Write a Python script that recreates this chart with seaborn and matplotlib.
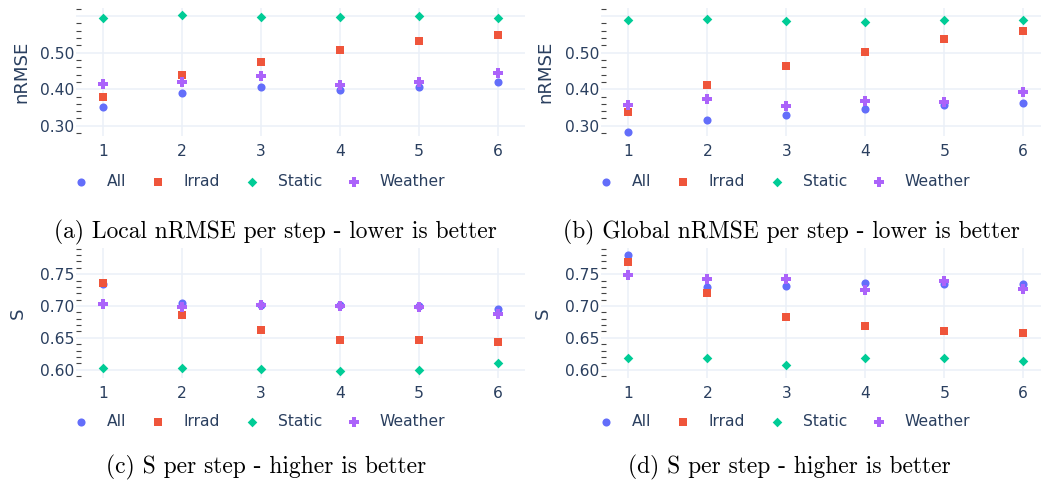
import matplotlib
matplotlib.use("Agg")
import matplotlib.pyplot as plt
from matplotlib.ticker import MultipleLocator, FuncFormatter
import seaborn as sns
import pandas as pd

steps = [1, 2, 3, 4, 5, 6]
models = ["All", "Irrad", "Static", "Weather"]

local_nrmse_all = [0.351, 0.390, 0.405, 0.397, 0.405, 0.420]
local_nrmse_irrad = [0.380, 0.439, 0.475, 0.508, 0.533, 0.549]
local_nrmse_static = [0.594, 0.603, 0.597, 0.597, 0.600, 0.594]
local_nrmse_weather = [0.414, 0.421, 0.436, 0.411, 0.421, 0.444]

global_nrmse_all = [0.284, 0.315, 0.329, 0.347, 0.358, 0.361]
global_nrmse_irrad = [0.337, 0.411, 0.463, 0.502, 0.536, 0.560]
global_nrmse_static = [0.589, 0.593, 0.587, 0.584, 0.588, 0.590]
global_nrmse_weather = [0.358, 0.374, 0.353, 0.368, 0.365, 0.393]

local_s_all = [0.734, 0.705, 0.701, 0.702, 0.700, 0.695]
local_s_irrad = [0.736, 0.686, 0.663, 0.647, 0.646, 0.643]
local_s_static = [0.603, 0.603, 0.601, 0.598, 0.600, 0.611]
local_s_weather = [0.703, 0.698, 0.702, 0.700, 0.699, 0.687]

global_s_all = [0.780, 0.730, 0.731, 0.736, 0.735, 0.734]
global_s_irrad = [0.769, 0.720, 0.683, 0.669, 0.661, 0.658]
global_s_static = [0.619, 0.619, 0.607, 0.619, 0.618, 0.613]
global_s_weather = [0.749, 0.742, 0.743, 0.725, 0.739, 0.726]

captions = ["(a) Local nRMSE per step - lower is better",
            "(b) Global nRMSE per step - lower is better",
            "(c) S per step - higher is better",
            "(d) S per step - higher is better"]

sns.set_theme(style="white")
plt.rcParams["font.family"] = ["DejaVu Sans"]

colors = {"All": "#636EFA", "Irrad": "#EF553B", "Static": "#00CC96", "Weather": "#AB63FA"}
markers = {"All": "o", "Irrad": "s", "Static": "D", "Weather": "P"}
sizes = {"All": 34, "Irrad": 32, "Static": 24, "Weather": 52}
TXT = "#2a3f5f"
GRID = "#EBF0F8"
FS = 11.2


def make_df(a, i, s, w):
    rows = []
    for m, vals in zip(models, [a, i, s, w]):
        for st, v in zip(steps, vals):
            rows.append({"step": st, "value": v, "model": m})
    return pd.DataFrame(rows)


panels = [
    (make_df(local_nrmse_all, local_nrmse_irrad, local_nrmse_static, local_nrmse_weather), "nRMSE"),
    (make_df(global_nrmse_all, global_nrmse_irrad, global_nrmse_static, global_nrmse_weather), "nRMSE"),
    (make_df(local_s_all, local_s_irrad, local_s_static, local_s_weather), "S"),
    (make_df(global_s_all, global_s_irrad, global_s_static, global_s_weather), "S"),
]

W, H = 1042, 483
fig = plt.figure(figsize=(W / 100, H / 100), dpi=100)


def rect(l, t, r, b):
    return [l / W, 1 - b / H, (r - l) / W, (b - t) / H]


rects = [rect(76, 8, 525, 136), rect(601, 8, 1041, 136),
         rect(76, 248, 525, 378), rect(601, 248, 1041, 378)]
xlims = [(0.658, 6.342), (0.654, 6.224), (0.658, 6.342), (0.654, 6.224)]
ylims = [(0.272, 0.622), (0.272, 0.622), (0.587, 0.791), (0.587, 0.791)]
ylab_x = [-0.122, -0.127, -0.129, -0.132]
leg_y = [-0.359, -0.359, -0.336, -0.336]
cap_pos = [(275, 232), (791, 232), (266, 467), (789, 467)]
hidden_labels = [[0.6], [0.6], [], []]

for k, (df, ylabel) in enumerate(panels):
    ax = fig.add_axes(rects[k])
    ax.set_axisbelow(True)
    for m in models:
        sub = df[df["model"] == m]
        sns.scatterplot(data=sub, x="step", y="value", ax=ax, color=colors[m],
                        marker=markers[m], s=sizes[m], linewidth=0, label=m, zorder=3)
    ax.set_xlim(*xlims[k])
    ax.set_ylim(*ylims[k])
    for sp in ax.spines.values():
        sp.set_visible(False)
    ax.set_xticks(steps)
    ax.set_xticklabels([str(s) for s in steps])
    ax.set_xlabel("")
    major = 0.1 if k < 2 else 0.05
    minor = 0.02 if k < 2 else 0.01
    ax.yaxis.set_major_locator(MultipleLocator(major))
    ax.yaxis.set_minor_locator(MultipleLocator(minor))
    hid = hidden_labels[k]
    ax.yaxis.set_major_formatter(FuncFormatter(
        lambda v, p, hid=hid: "" if any(abs(v - h) < 1e-6 for h in hid) else f"{v:.2f}"))
    ax.grid(True, which="major", color=GRID, linewidth=1.1)
    ax.tick_params(axis="x", length=0, pad=6, labelsize=FS, labelcolor=TXT)
    ax.tick_params(axis="y", which="major", direction="in", length=3.5, width=0.8,
                   color="#444444", pad=1.0, labelsize=FS, labelcolor=TXT)
    ax.tick_params(axis="y", which="minor", direction="in", length=3.5, width=0.8,
                   color="#444444", left=True)
    ax.set_ylabel(ylabel, fontsize=13.1, color=TXT, va="center")
    ax.yaxis.set_label_coords(ylab_x[k], 0.5)
    sns.move_legend(ax, "center left", bbox_to_anchor=(-0.0062, leg_y[k]), ncol=4,
                    frameon=False, borderpad=0, borderaxespad=0, handlelength=1.0,
                    handletextpad=1.17, columnspacing=1.53, fontsize=FS, title=None)
    for t in ax.get_legend().get_texts():
        t.set_color(TXT)
    cx, cy = cap_pos[k]
    fig.text(cx / W, 1 - cy / H, captions[k], ha="center", va="center",
             family="cmr10", fontsize=16.9, color="black")

fig.savefig("out.png", dpi=100)
